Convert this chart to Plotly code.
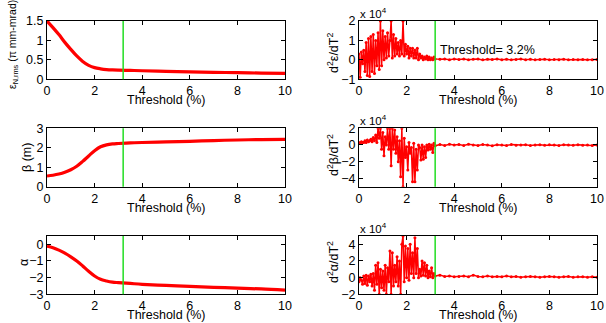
import plotly.graph_objects as go

threshold = 3.2

# Left column (smooth curves)
x_smooth = [0, 0.25, 0.5, 0.75, 1, 1.25, 1.5, 1.75, 2, 2.25, 2.5, 2.75, 3, 3.5, 4, 5, 6, 7, 8, 9, 10]
emit = [1.5, 1.33, 1.15, 0.95, 0.77, 0.6, 0.46, 0.36, 0.3, 0.27, 0.25, 0.24, 0.235, 0.23, 0.22, 0.205, 0.19, 0.18, 0.17, 0.16, 0.15]
beta = [0.55, 0.59, 0.65, 0.74, 0.87, 1.05, 1.3, 1.58, 1.85, 2.05, 2.15, 2.2, 2.22, 2.25, 2.27, 2.3, 2.33, 2.37, 2.4, 2.42, 2.43]
alpha = [-0.1, -0.2, -0.35, -0.53, -0.75, -1.0, -1.3, -1.62, -1.9, -2.1, -2.2, -2.27, -2.3, -2.35, -2.4, -2.47, -2.52, -2.58, -2.63, -2.68, -2.75]

# Right column (second derivatives, units of 1e4)
x_noisy = [0.00, 0.05, 0.10, 0.15, 0.20, 0.25, 0.30, 0.35, 0.40, 0.45, 0.50, 0.55, 0.60, 0.65, 0.70, 0.75,
           0.80, 0.85, 0.90, 0.95, 1.00, 1.05, 1.10, 1.15, 1.20, 1.25, 1.30, 1.35, 1.40, 1.45, 1.50, 1.55,
           1.60, 1.65, 1.70, 1.75, 1.80, 1.85, 1.90, 1.95, 2.00, 2.05, 2.10, 2.15, 2.20, 2.25, 2.30, 2.35,
           2.40, 2.45, 2.50, 2.55, 2.60, 2.65, 2.70, 2.75, 2.80, 2.85, 2.90, 2.95, 3.00, 3.05, 3.10, 3.15,
           3.20, 3.4, 3.6, 3.8, 4.0, 4.2, 4.4, 4.6, 4.8, 5.0, 5.2, 5.4, 5.6, 5.8, 6.0, 6.2, 6.4, 6.6, 6.8,
           7.0, 7.2, 7.4, 7.6, 7.8, 8.0, 8.2, 8.4, 8.6, 8.8, 9.0, 9.2, 9.4, 9.6, 9.8, 10.0]
d2_emit = [0.3, -0.9, 0.4, -0.2, 0.5, -0.6, 0.9, -0.8, 1.1, -0.85, 1.2, -0.6, 1.3, -0.7, 1.0, -0.3,
           1.4, -0.5, 2.0, -0.3, 1.5, 0.0, 1.2, 0.1, 1.4, 0.2, 1.0, 2.0, 0.1, 1.3, 0.2, 1.1,
           0.3, 0.9, 0.2, 1.0, 0.3, 2.0, 0.2, 0.8, 0.3, 0.7, 0.1, 0.6, 0.2, 0.6, 0.1, 0.5,
           0.1, 0.6, 0.0, 0.3, 0.1, 0.2, 0.0, 0.15, 0.05, 0.2, 0.0, 0.15, 0.0, 0.1, 0.0, 0.15,
           0.05, 0.03, 0.05, 0.01, 0.04, 0.02, 0.05, 0.01, 0.03, 0.04, 0.0, 0.03, 0.02, 0.04, 0.01, 0.03,
           0.0, 0.02, 0.04, 0.01, 0.03, 0.0, 0.02, 0.03, 0.01, 0.02, 0.0, 0.03, 0.01, 0.02, 0.0, 0.02,
           0.01, 0.0, 0.02]
d2_beta = [0.3, 0.2, 0.4, 0.3, 0.3, 0.5, 0.3, 0.6, 0.4, 0.5, 0.7, 0.4, 0.9, 0.5, 1.2, 0.3,
           2.0, 0.8, 2.0, -0.5, 1.5, -1.3, 1.0, 0.0, 2.0, -0.5, 2.0, -2.5, 2.0, -0.5, 1.8, -1.0,
           1.0, -2.0, 0.5, -3.8, 2.0, -5.0, 0.8, -1.5, -0.2, -3.0, 0.3, -1.0, -0.3, -4.4, 0.2, -4.4,
           -0.5, -3.0, 0.0, -0.3, -1.8, 0.0, -1.7, -0.2, -1.5, 0.0, -0.6, 0.1, -0.5, 0.0, -0.9, 0.2,
           -0.1, 0.05, -0.05, 0.1, 0.0, 0.05, -0.05, 0.08, 0.0, -0.05, 0.05, 0.0, -0.08, 0.03, 0.0, -0.05,
           0.05, -0.02, 0.0, 0.04, -0.05, 0.0, 0.03, -0.04, 0.02, 0.0, -0.06, 0.02, 0.0, -0.03, 0.04, -0.02,
           0.0, -0.05, 0.0]
d2_alpha = [-0.5, 0.0, -0.3, -0.8, 0.2, -0.7, 0.3, -0.9, 0.2, -0.5, 0.4, -1.0, 0.5, -1.5, 1.5, -0.8,
            1.8, -2.0, 1.0, -1.2, 0.8, -1.5, 1.5, -2.0, 1.2, -0.5, 3.2, -2.0, 3.0, -1.0, 1.5, -0.5,
            2.5, -1.0, 2.0, -2.0, 4.0, 5.0, -0.5, 3.8, 0.0, 3.5, -0.3, 4.0, 0.5, 3.0, 0.0, 4.8,
            0.5, 3.5, 0.0, 1.0, 0.2, 2.0, 0.3, 1.8, 0.2, 1.5, 0.0, 0.8, 0.1, 1.2, 0.0, 0.5,
            0.2, 0.3, 0.15, 0.2, 0.1, 0.15, 0.2, 0.1, 0.3, 0.15, 0.1, 0.2, 0.1, 0.15, 0.1, 0.2,
            0.1, 0.15, 0.05, 0.1, 0.15, 0.1, 0.05, 0.1, 0.15, 0.1, 0.05, 0.1, 0.15, 0.05, 0.1, 0.1,
            0.05, 0.1, 0.05]

x_ticks = [0, 2, 4, 6, 8, 10]

W, H = 606, 323
def px_x(p): return p / W
def px_y(p): return 1 - p / H

left_dom = [px_x(47), px_x(285)]
right_dom = [px_x(359), px_x(597)]
rows = [(21, 79.3), (128.3, 186.7), (236, 294.3)]
row_doms = [[px_y(b), px_y(t)] for t, b in rows]

panels = [
    ("x", "y", x_smooth, emit, left_dom, 0, [0, 1.5], [0, 0.5, 1, 1.5], 3.2, False),
    ("x2", "y2", x_noisy, d2_emit, right_dom, 0, [-1, 2], [-1, 0, 1, 2], 1.5, True),
    ("x3", "y3", x_smooth, beta, left_dom, 1, [0, 3], [0, 1, 2, 3], 3.2, False),
    ("x4", "y4", x_noisy, d2_beta, right_dom, 1, [-5, 2], [-4, -2, 0, 2], 1.5, True),
    ("x5", "y5", x_smooth, alpha, left_dom, 2, [-3, 0.5], [-3, -2, -1, 0], 3.2, False),
    ("x6", "y6", x_noisy, d2_alpha, right_dom, 2, [-2, 5], [-2, 0, 2, 4], 1.5, True),
]

font = dict(family="Liberation Sans, Arial, sans-serif", size=12, color="black")
fig = go.Figure()
layout = dict(width=W, height=H, margin=dict(l=0, r=0, t=0, b=0, autoexpand=False),
              paper_bgcolor="white", plot_bgcolor="white", showlegend=False, font=font)
shapes = []
for xa, ya, xd, yd, xdom, r, yr, yt, lw, mk in panels:
    fig.add_trace(go.Scatter(
        x=xd, y=yd, xaxis=xa, yaxis=ya,
        mode="lines+markers" if mk else "lines",
        line=dict(color="#ff0000", width=lw, shape="linear" if mk else "spline"),
        marker=dict(size=3, color="#ff0000"),
        cliponaxis=True, hoverinfo="skip"))
    xk = "xaxis" + xa[1:]
    yk = "yaxis" + ya[1:]
    common = dict(showline=True, linecolor="black", linewidth=1, mirror="ticks",
                  ticks="inside", ticklen=4, tickwidth=1, tickcolor="black",
                  showgrid=False, zeroline=False, tickfont=dict(size=12.5),
                  automargin=False)
    layout[xk] = dict(domain=xdom, anchor=ya, range=[0, 10], tickvals=x_ticks, **common)
    layout[yk] = dict(domain=row_doms[r], anchor=xa, range=yr, tickvals=yt, **common)
    shapes.append(dict(type="line", xref=xa, yref=ya + " domain", x0=threshold, x1=threshold,
                       y0=0, y1=1, line=dict(color="#22dd22", width=1.5)))
layout["shapes"] = shapes

ann = []
for t, b in rows:
    for dom in (left_dom, right_dom):
        ann.append(dict(text="Threshold (%)", xref="paper", yref="paper",
                        x=(dom[0] + dom[1]) / 2, y=px_y(b + 21), showarrow=False,
                        font=dict(size=12.5), xanchor="center", yanchor="middle"))
ytitles = [
    ("ε<sub>N,rms</sub> (π mm-mrad)", 13, 45, 10.5),
    ("β (m)", 27, 158, 12.5),
    ("α", 24, 263, 12.5),
    ("d<sup>2</sup>ε/dT<sup>2</sup>", 333, 53, 12.5),
    ("d<sup>2</sup>β/dT<sup>2</sup>", 333, 155, 12.5),
    ("d<sup>2</sup>α/dT<sup>2</sup>", 333, 262, 12.5),
]
for txt, cx, cy, fs in ytitles:
    ann.append(dict(text=txt, xref="paper", yref="paper", x=px_x(cx), y=px_y(cy),
                    textangle=-90, showarrow=False, font=dict(size=fs),
                    xanchor="center", yanchor="middle"))
for t, b in rows:
    ann.append(dict(text="x 10<sup>4</sup>", xref="paper", yref="paper",
                    x=px_x(358), y=px_y(t - 8), showarrow=False, font=dict(size=11.5),
                    xanchor="left", yanchor="middle"))
ann.append(dict(text="Threshold= 3.2%", xref="x2", yref="y2", x=3.3, y=0.5,
                showarrow=False, xanchor="left", yanchor="middle", font=dict(size=12.5)))
layout["annotations"] = ann

fig.update_layout(**layout)
fig.write_html("out.html", config={"displayModeBar": False},
               post_script="document.body.style.margin='0';document.body.style.padding='0';")
